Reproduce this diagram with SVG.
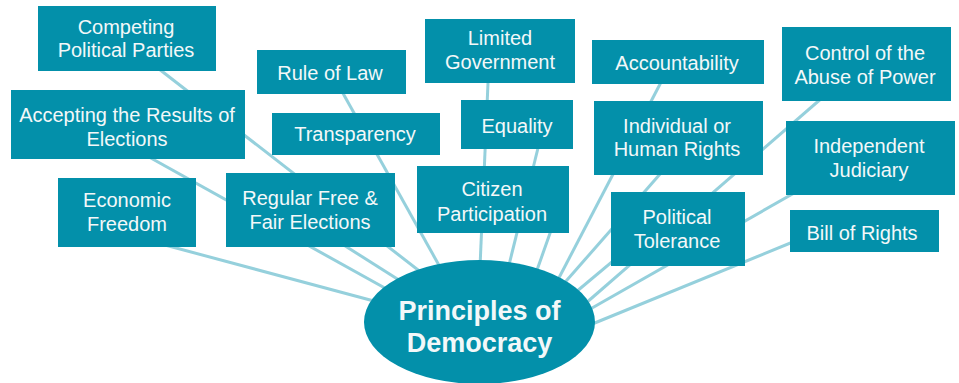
<svg xmlns="http://www.w3.org/2000/svg" width="959" height="383" viewBox="0 0 959 383">
<style>
.bg{fill:#ffffff}
.box{fill:#0390aa}
.lbl{font-family:"Liberation Sans",Arial,sans-serif;font-size:20px;fill:#f3f8f9;text-anchor:middle}
.hub{font-family:"Liberation Sans",Arial,sans-serif;font-size:27px;font-weight:bold;fill:#f3f8f9;text-anchor:middle}
.conn line{stroke:#95d0dc;stroke-width:3;stroke-linecap:butt}
</style>
<rect class="bg" x="0" y="0" width="959" height="383"/>
<g id="connectors" class="conn">
<line x1="150" y1="241" x2="400" y2="308"/>
<line x1="140" y1="152" x2="410" y2="302"/>
<line x1="320" y1="230" x2="410" y2="287"/>
<line x1="150" y1="62" x2="440" y2="287"/>
<line x1="330" y1="70" x2="450" y2="285"/>
<line x1="489" y1="60" x2="479" y2="290"/>
<line x1="545" y1="120" x2="504" y2="285"/>
<line x1="560" y1="205" x2="531" y2="287"/>
<line x1="670" y1="65" x2="550" y2="295"/>
<line x1="668" y1="165" x2="560" y2="288"/>
<line x1="650" y1="230" x2="570" y2="297"/>
<line x1="830" y1="91" x2="578" y2="310"/>
<line x1="810" y1="184" x2="585" y2="312"/>
<line x1="810" y1="235" x2="580" y2="329"/>
</g>
<g id="n-competing"><rect class="box" x="38" y="6" width="178" height="65"/><text class="lbl" x="126" y="34">Competing</text><text class="lbl" x="126" y="57">Political Parties</text></g>
<g id="n-ruleoflaw"><rect class="box" x="257" y="50" width="149" height="44"/><text class="lbl" x="330" y="80">Rule of Law</text></g>
<g id="n-accepting"><rect class="box" x="11" y="90" width="234" height="69"/><text class="lbl" x="127" y="122">Accepting the Results of</text><text class="lbl" x="127" y="146">Elections</text></g>
<g id="n-transparency"><rect class="box" x="272" y="113" width="168" height="42"/><text class="lbl" x="355" y="141">Transparency</text></g>
<g id="n-limited"><rect class="box" x="425" y="19" width="150" height="64"/><text class="lbl" x="500" y="45">Limited</text><text class="lbl" x="500" y="69">Government</text></g>
<g id="n-equality"><rect class="box" x="461" y="100" width="112" height="49"/><text class="lbl" x="517" y="133">Equality</text></g>
<g id="n-citizen"><rect class="box" x="417" y="166" width="152" height="67"/><text class="lbl" x="492" y="196">Citizen</text><text class="lbl" x="492" y="221">Participation</text></g>
<g id="n-accountability"><rect class="box" x="592" y="40" width="172" height="44"/><text class="lbl" x="677" y="70">Accountability</text></g>
<g id="n-control"><rect class="box" x="782" y="27" width="169" height="74"/><text class="lbl" x="865" y="60">Control of the</text><text class="lbl" x="865" y="84">Abuse of Power</text></g>
<g id="n-individual"><rect class="box" x="594" y="101" width="169" height="74"/><text class="lbl" x="677" y="133">Individual or</text><text class="lbl" x="677" y="156">Human Rights</text></g>
<g id="n-judiciary"><rect class="box" x="786" y="121" width="169" height="74"/><text class="lbl" x="869" y="153">Independent</text><text class="lbl" x="869" y="177">Judiciary</text></g>
<g id="n-economic"><rect class="box" x="58" y="178" width="138" height="69"/><text class="lbl" x="127" y="207">Economic</text><text class="lbl" x="127" y="231">Freedom</text></g>
<g id="n-regular"><rect class="box" x="226" y="173" width="169" height="74"/><text class="lbl" x="310" y="205">Regular Free &amp;</text><text class="lbl" x="310" y="229">Fair Elections</text></g>
<g id="n-tolerance"><rect class="box" x="611" y="192" width="134" height="74"/><text class="lbl" x="677" y="224">Political</text><text class="lbl" x="677" y="248">Tolerance</text></g>
<g id="n-billofrights"><rect class="box" x="790" y="210" width="149" height="42"/><text class="lbl" x="862" y="240">Bill of Rights</text></g>
<g id="n-hub"><ellipse class="box" cx="479.5" cy="322" rx="115.5" ry="62"/><text class="hub" x="479.5" y="320">Principles of</text><text class="hub" x="479.5" y="352">Democracy</text></g>
</svg>
